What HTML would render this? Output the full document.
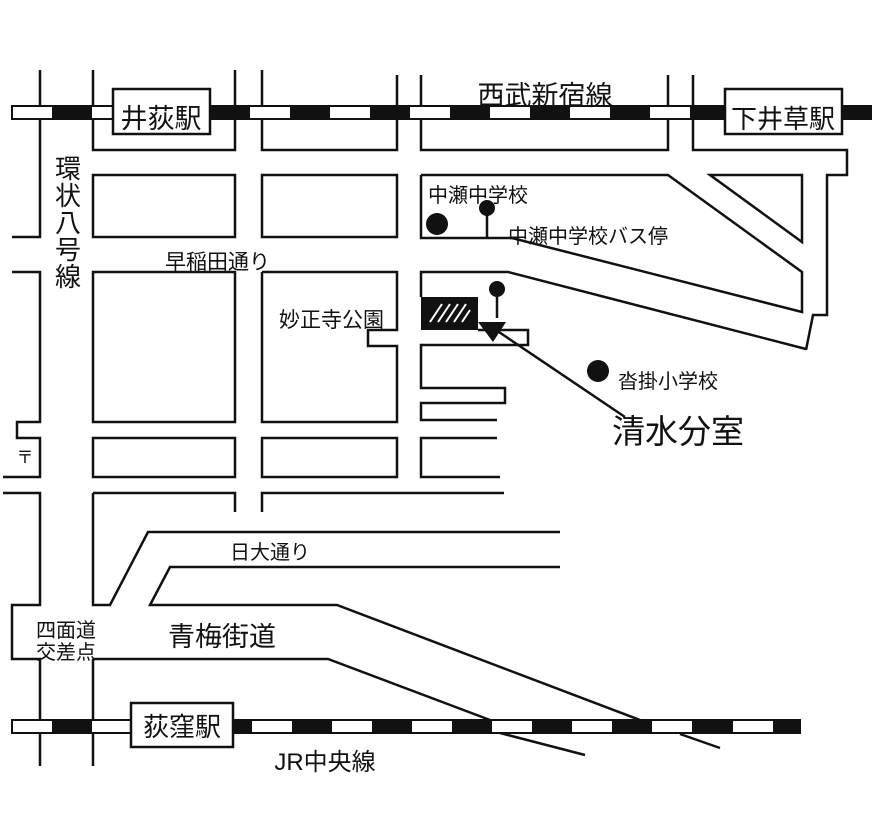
<!DOCTYPE html>
<html><head><meta charset="utf-8"><style>
html,body{margin:0;padding:0;background:#fff;}
svg{display:block}
text{font-family:"Liberation Sans","Noto Sans CJK JP",sans-serif;fill:#111;}
</style></head><body>
<svg width="872" height="840" viewBox="0 0 872 840" xmlns="http://www.w3.org/2000/svg">
<g fill="none" stroke="#111" stroke-width="2.5" stroke-linejoin="miter">
<polyline points="40,70 40,237 12,237"/>
<polyline points="12,272 40,272 40,422 17,422 17,438 40,438 40,477 3,477"/>
<polyline points="3,493 40,493 40,605 12,605 12,659 40,659 40,766"/>
<line x1="93" y1="659" x2="93" y2="766"/>
<polyline points="93,659 328,659 490,720"/>
<line x1="500" y1="733" x2="585" y2="755"/>
<polyline points="93,70 93,150 235,150 235,70"/>
<polyline points="262,70 262,150 397,150 397,75"/>
<polyline points="421,75 421,150 668,150 668,75"/>
<polyline points="693,75 693,150 847,150 847,175 827,175 827,315 813,315 806,350"/>
<rect x="93" y="175" width="142" height="62"/>
<rect x="262" y="175" width="135" height="62"/>
<polyline points="421,175 668,175 802,272 802,312 512,238 421,238 421,175"/>
<polygon points="710,175 802,175 802,242"/>
<rect x="93" y="272" width="142" height="150"/>
<polyline points="262,272 397,272 397,330 368,330 368,346 397,346 397,422 262,422 262,272"/>
<polyline points="806,349 508,272 421,272 421,297"/>
<polyline points="478,330 528,330 528,345 421,345 421,388 505,388 505,403 421,403 421,420 497,420"/>
<polyline points="497,438 421,438 421,477 500,477"/>
<rect x="93" y="438" width="142" height="39"/>
<rect x="262" y="438" width="135" height="39"/>
<polyline points="93,493 235,493 235,512"/>
<polyline points="262,512 262,493 504,493"/>
<polyline points="93,493 93,605 110,605 148,532 560,532"/>
<polyline points="560,567 170,567 150,605 337,605 640,720"/>
<line x1="680" y1="734" x2="720" y2="748"/>
<line x1="493" y1="328" x2="625" y2="417"/>
<line x1="487" y1="208" x2="487" y2="237"/>
<line x1="497" y1="289" x2="497" y2="318"/>
</g>
<rect x="421" y="297" width="57" height="33" fill="#111"/>
<g stroke="#fff" stroke-width="2">
<line x1="430" y1="322" x2="442" y2="304"/><line x1="438" y1="322" x2="450" y2="304"/>
<line x1="446" y1="322" x2="458" y2="304"/><line x1="454" y1="322" x2="466" y2="304"/>
<line x1="462" y1="322" x2="470" y2="310"/>
</g>
<polygon points="478,322 506,322 493,342" fill="#111"/>
<circle cx="437" cy="224" r="11" fill="#111"/>
<circle cx="487" cy="208" r="8" fill="#111"/>
<circle cx="497" cy="289" r="8" fill="#111"/>
<circle cx="598" cy="371" r="11" fill="#111"/>
<rect x="12" y="106" width="860" height="13" fill="#fff" stroke="#111" stroke-width="2"/>
<g fill="#111">
<rect x="52" y="106" width="40" height="13"/><rect x="210" y="106" width="40" height="13"/>
<rect x="290" y="106" width="40" height="13"/><rect x="370" y="106" width="40" height="13"/>
<rect x="450" y="106" width="40" height="13"/><rect x="530" y="106" width="40" height="13"/>
<rect x="610" y="106" width="40" height="13"/><rect x="690" y="106" width="35" height="13"/>
<rect x="842" y="106" width="30" height="13"/>
</g>
<rect x="113" y="89" width="97" height="45" fill="#fff" stroke="#111" stroke-width="2.5"/>
<rect x="725" y="89" width="117" height="45" fill="#fff" stroke="#111" stroke-width="2.5"/>
<rect x="12" y="720" width="788" height="13" fill="#fff" stroke="#111" stroke-width="2"/>
<g fill="#111">
<rect x="52" y="720" width="40" height="13"/><rect x="233" y="720" width="19" height="13"/>
<rect x="292" y="720" width="40" height="13"/><rect x="372" y="720" width="40" height="13"/>
<rect x="452" y="720" width="40" height="13"/><rect x="532" y="720" width="40" height="13"/>
<rect x="612" y="720" width="40" height="13"/><rect x="692" y="720" width="41" height="13"/>
<rect x="773" y="720" width="27" height="13"/>
</g>
<rect x="131" y="703" width="102" height="44" fill="#fff" stroke="#111" stroke-width="2.5"/>
<text x="161" y="128" font-size="27" text-anchor="middle">井荻駅</text>
<text x="783" y="128" font-size="26" text-anchor="middle">下井草駅</text>
<text x="182" y="736" font-size="26" text-anchor="middle">荻窪駅</text>
<text x="545" y="105" font-size="27" text-anchor="middle">西武新宿線</text>
<text x="325" y="770" font-size="24" text-anchor="middle">JR中央線</text>
<g font-size="26" text-anchor="middle">
<text x="68" y="178">環</text><text x="68" y="205">状</text><text x="68" y="232">八</text><text x="68" y="259">号</text><text x="68" y="286">線</text>
</g>
<text x="165" y="269" font-size="21">早稲田通り</text>
<text x="279" y="327" font-size="21">妙正寺公園</text>
<text x="428" y="202" font-size="20">中瀬中学校</text>
<text x="508" y="243" font-size="20">中瀬中学校バス停</text>
<text x="618" y="388" font-size="20">沓掛小学校</text>
<text x="612" y="443" font-size="33">清水分室</text>
<text x="25" y="463" font-size="17" text-anchor="middle">〒</text>
<text x="230" y="559" font-size="20">日大通り</text>
<text x="168" y="646" font-size="27">青梅街道</text>
<text x="36" y="637" font-size="20">四面道</text>
<text x="36" y="659" font-size="20">交差点</text>
</svg>
</body></html>
